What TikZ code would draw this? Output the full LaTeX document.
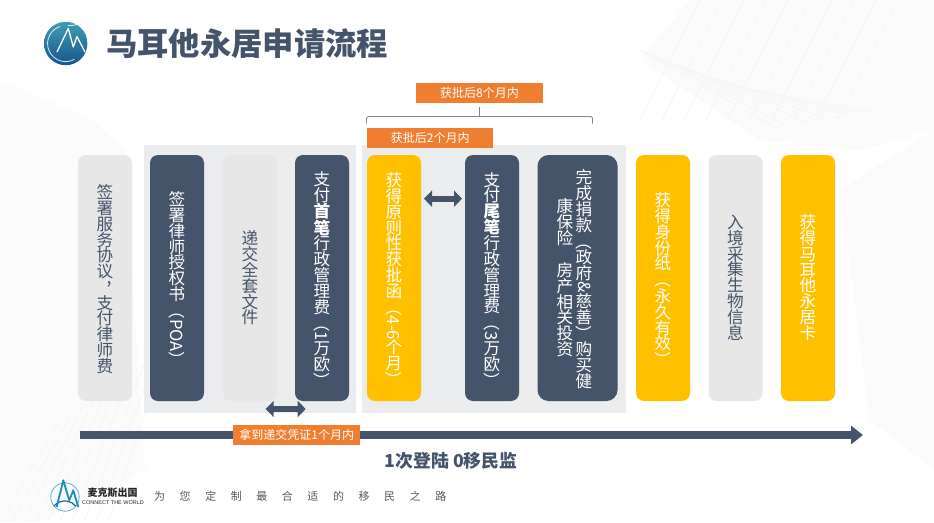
\documentclass[tikz,border=0pt]{standalone}
\usepackage{fontspec}
\usepackage{graphicx}
\usetikzlibrary{arrows.meta}
\setmainfont{Noto Sans CJK SC}
\newfontfamily\latinfont{Liberation Sans}
\definecolor{navy}{HTML}{44546A}
\definecolor{orangelab}{HTML}{F07E30}
\definecolor{yellowbox}{HTML}{FFC000}
\definecolor{greybox}{HTML}{E7E7E8}
\definecolor{panelgrey}{HTML}{EAECEE}
\definecolor{bgfaint}{HTML}{FBFBFB}
\definecolor{bgline}{HTML}{F6F6F7}
\definecolor{logotop}{HTML}{3F9DB4}
\definecolor{logobot}{HTML}{17548C}
\definecolor{ringblue}{HTML}{5DB0DC}
\definecolor{arcblue}{HTML}{17659F}
\definecolor{mblue}{HTML}{1E88C0}
\definecolor{bracketgrey}{HTML}{7F8794}
\makeatletter
\newcommand\VChar[1]{\hbox to 16pt{\vrule height 13.8pt depth 1.9pt width 0pt\hss #1\hss}}
\newcommand\VT[1]{\@tfor\vtc:=#1\do{\VChar{\vtc}}}
\newcommand\VB[1]{{\bfseries\VT{#1}}}
\newcommand\VR[1]{\hbox to 16pt{\hss\rotatebox[origin=c]{-90}{\vrule height 14pt depth 2pt width 0pt #1}\hss}}
\newcommand\VComma{\hbox to 16pt{\vrule height 13.8pt depth 1.9pt width 0pt\hss\raisebox{8pt}{\kern 17pt ，}\hss}}
\newcommand\VG[1]{\kern #1}
\newcommand\VStack[1]{\vbox{\offinterlineskip\fontsize{16.6}{16}\selectfont #1}}
\newcommand\SpacedText[2]{\hbox{\@tfor\vtc:=#2\do{\vtc\kern #1}\unskip}}
\makeatother
\tikzset{
  stepbox/.style={rounded corners=8pt,minimum width=54pt,minimum height=246pt,inner sep=0pt,draw=none},
  navybox/.style={stepbox,fill=navy,text=white},
  yellowstep/.style={stepbox,fill=yellowbox,text=white},
  greystep/.style={stepbox,fill=greybox,text=navy},
  panel/.style={fill=panelgrey,draw=none},
  timelabel/.style={fill=orangelab,text=white,inner sep=0pt,minimum width=126.5pt,minimum height=19.8pt,font=\fontsize{12}{12}\selectfont},
  blockarrow/.style={draw=navy,line width=6pt,{Triangle[length=8pt,width=16pt]}-{Triangle[length=8pt,width=16pt]}},
  mainarrow/.style={draw=navy,line width=8.6pt,-{Triangle[length=12pt,width=18pt]}},
  bracket/.style={draw=bracketgrey,line width=0.7pt},
  bgshape/.style={fill=bgfaint,draw=none},
  bgstroke/.style={draw=bgline,line width=0.8pt}
}
\begin{document}
\begin{tikzpicture}[x=1pt,y=-1pt]
\useasboundingbox (0,0) rectangle (934,522);
% faint background
\fill[white] (0,0) rectangle (934,522);
\fill[bgshape] (690,0) -- (934,0) -- (934,130) -- (860,150) -- (760,140) -- (640,60) -- cycle;
\fill[bgshape] (840,190) -- (934,130) -- (934,470) -- (870,420) -- cycle;
\fill[bgshape] (0,80) -- (45,100) -- (90,118) -- (125,150) -- (140,400) -- (145,470) -- (40,522) -- (0,522) -- cycle;
\foreach \i in {0,...,9}{
  \draw[bgstroke] (640+\i*22,120) -- (700+\i*22,0);
  \draw[bgstroke] (640+\i*10,50+\i*4) -- (780+\i*10,130-\i*2);
  \draw[bgstroke] (\i*12,522) -- (\i*12+60,420-\i*8);
}
% panels
\fill[panel] (144,145) rectangle (356,413);
\fill[panel] (362,145) rectangle (626,413);
% logo top
\shade[top color=logotop,bottom color=logobot] (65.7,43.5) circle (21.7);
\draw[white,line width=0.8pt,opacity=.85] (68,25.5) arc[start angle=97,end angle=-38,radius=18];
\draw[white,line width=0.8pt,opacity=.85] (60,26.5) arc[start angle=252,end angle=60,radius=18];
\draw[white,line width=1.3pt,line join=round] (57,52) -- (68.3,28.5) -- (73.3,47) -- (77,36.5) -- (85,52);
% title
\node[anchor=west,inner sep=0pt,text=navy,font=\fontsize{31.3}{32}\selectfont\bfseries] (title) at (106,44) {马耳他永居申请流程};
% step boxes
\node[greystep] (s1) at (105,278) {\VStack{\VG{3pt}\VT{签署服务协议}\VComma\VT{支付律师费}}};
\node[navybox] (s2) at (177,278) {\VStack{\VG{4pt}\VT{签署律师授权书}\VR{（POA）}}};
\node[greystep] (s3) at (250,278) {\VStack{\VT{递交全套文件}}};
\node[navybox] (s4) at (322,278) {\VStack{\VG{5pt}\VT{支付}\VB{首笔}\VT{行政管理费}\VR{（1}\VT{万欧}\VR{）}}};
\node[yellowstep] (s5) at (394,278) {\VStack{\VG{5pt}\VT{获得原则性获批函}\VR{（4-6}\VT{个月}\VR{）}}};
\node[navybox] (s6) at (492,278) {\VStack{\VG{5pt}\VT{支付}\VB{尾笔}\VT{行政管理费}\VR{（3}\VT{万欧}\VR{）}}};
\node[navybox,minimum width=80pt,rounded corners=11pt] (s7) at (577.5,278) {\hbox{$\vcenter{\VStack{\VT{康保险}\VG{16pt}\VT{房产相关投资}}}\kern3pt\vcenter{\VStack{\VG{3pt}\VT{完成捐款}\VR{（}\VT{政府}\VR{\&}\VT{慈善}\VR{）}\VT{购买健}}}$\kern6pt}};
\node[yellowstep] (s8) at (663,278) {\VStack{\VG{5pt}\VT{获得身份纸}\VR{（}\VT{永久有效}\VR{）}}};
\node[greystep] (s9) at (735.5,278) {\VStack{\VT{入境采集生物信息}}};
\node[yellowstep] (s10) at (808,278) {\VStack{\VT{获得马耳他永居卡}}};
% bracket
\coordinate (bl) at (366.5,123.5);
\coordinate (br) at (592.5,123.5);
\coordinate (bm) at (479.5,116.5);
\coordinate (bt) at (479.5,107);
\node[timelabel] (l8) at (479.5,93) {获批后8个月内};
\draw[bracket,rounded corners=1.5pt] (bl) |- (bm) -| (br);
\draw[bracket] (bm) -- (bt);
\node[timelabel] (l2) at (430.2,138.2) {获批后2个月内};
% block arrows
\coordinate (a1l) at (424,198.7);
\coordinate (a1r) at (462,198.7);
\draw[blockarrow] (a1l) -- (a1r);
\coordinate (a2l) at (265.7,409);
\coordinate (a2r) at (305.7,409);
\draw[blockarrow] (a2l) -- (a2r);
% main arrow
\coordinate (ma) at (80,435);
\coordinate (mb) at (863,435);
\draw[mainarrow] (ma) -- (mb);
\node[timelabel] (l1) at (296.7,435.3) {拿到递交凭证1个月内};
\node[inner sep=0pt,text=navy,font=\fontsize{17.8}{18}\selectfont\bfseries] (slogan) at (451,461) {1次登陆 0移民监};
% bottom logo
\draw[color=ringblue,line width=0.8pt] (65,497) circle (14.2);
\draw[color=arcblue,line width=1.2pt] (54,506) arc[start angle=-140,end angle=-40,radius=14.2];
\draw[color=mblue,line width=1.8pt,line join=round] (56.7,507) -- (63.3,480.3) -- (69.3,500.3) -- (73.3,490.3) -- (78.3,507);
\node[anchor=west,inner sep=0pt,text=black!85,font=\fontsize{10}{10}\selectfont\bfseries] (brand) at (87.3,492.7) {麦克斯出国};
\node[anchor=west,inner sep=0pt,text=black!85,font=\latinfont\fontsize{5.5}{7}\selectfont] (brandlat) at (82,502.3) {CONNECT THE WORLD};
\node[anchor=west,inner sep=0pt,text=black!65,font=\fontsize{11}{11}\selectfont] (tag) at (154,496) {\SpacedText{14.55pt}{为您定制最合适的移民之路}};
\end{tikzpicture}
\end{document}
